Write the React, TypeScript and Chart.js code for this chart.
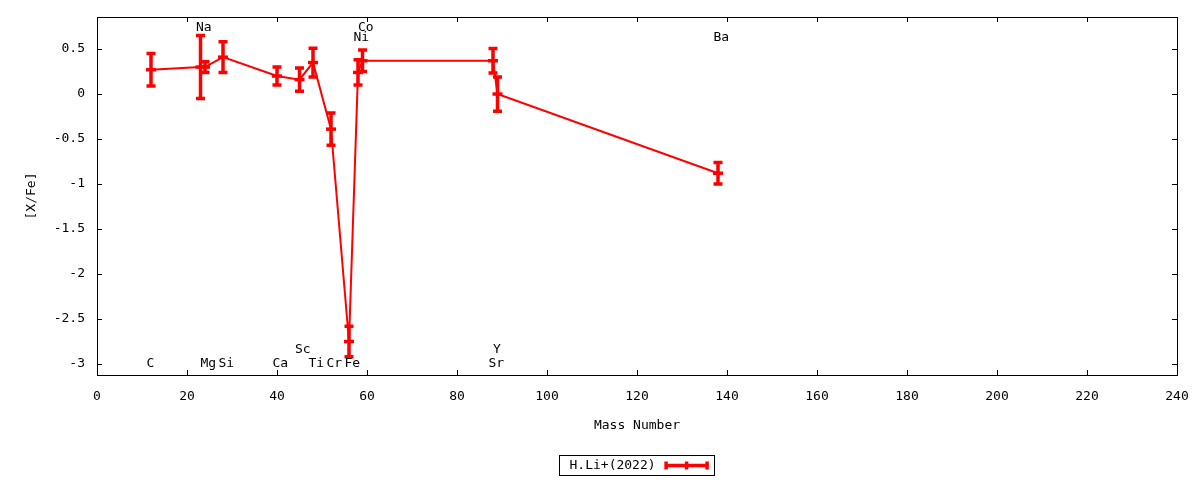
import React, { useEffect, useRef } from 'react';
import { Chart, registerables } from 'chart.js';

Chart.register(...registerables);

// ---- data ----
const elements = ['C', 'Na', 'Mg', 'Si', 'Ca', 'Sc', 'Ti', 'Cr', 'Fe', 'Ni', 'Co', 'Sr', 'Y', 'Ba'];
const massNumbers = [12, 23, 24, 28, 40, 45, 48, 52, 56, 58, 59, 88, 89, 138];
const xFe = [0.27, 0.30, 0.30, 0.41, 0.20, 0.16, 0.35, -0.39, -2.75, 0.24, 0.37, 0.37, 0.0, -0.88];
const xFeErr = [0.18, 0.35, 0.06, 0.17, 0.10, 0.13, 0.16, 0.18, 0.17, 0.14, 0.12, 0.135, 0.19, 0.12];
const labelY = [-3, 0.74, -3, -3, -3, -2.84, -3, -3, -3, 0.63, 0.74, -3, -2.84, 0.63];
const xTicks = [0, 20, 40, 60, 80, 100, 120, 140, 160, 180, 200, 220, 240];
const yTicks = [0.5, 0, -0.5, -1, -1.5, -2, -2.5, -3];
const seriesLabel = 'H.Li+(2022)';
const xTitle = 'Mass Number';
const yTitle = '[X/Fe]';
const X_MIN = 0;
const X_MAX = 240;
const Y_MIN = -3.122;
const Y_MAX = 0.856;

// ---- styles ----
const FONT_FAMILY = '"DejaVu Sans Mono", "Liberation Mono", monospace';
const FONT_SIZE = 13;
const RED = '#ff0000';
const TICK_LEN = 5;

const errorBarPlugin = {
  id: 'errorBars',
  afterDatasetsDraw(chart: any) {
    const { ctx, scales } = chart;
    const x = scales.x;
    const y = scales.y;
    ctx.save();
    ctx.strokeStyle = RED;
    ctx.lineWidth = 3.5;
    ctx.lineCap = 'butt';
    massNumbers.forEach((m, i) => {
      const px = x.getPixelForValue(m);
      const top = y.getPixelForValue(xFe[i] + xFeErr[i]);
      const bot = y.getPixelForValue(xFe[i] - xFeErr[i]);
      ctx.beginPath();
      ctx.moveTo(px, top);
      ctx.lineTo(px, bot);
      ctx.moveTo(px - 4.5, top);
      ctx.lineTo(px + 4.5, top);
      ctx.moveTo(px - 4.5, bot);
      ctx.lineTo(px + 4.5, bot);
      ctx.stroke();
    });
    ctx.restore();
  },
};

const framePlugin = {
  id: 'frame',
  afterDraw(chart: any) {
    const { ctx, chartArea, scales } = chart;
    const { left, right, top, bottom } = chartArea;
    ctx.save();
    ctx.strokeStyle = '#000000';
    ctx.lineWidth = 1;
    ctx.strokeRect(Math.round(left) + 0.5, Math.round(top) + 0.5, Math.round(right - left), Math.round(bottom - top));
    ctx.beginPath();
    scales.x.ticks.forEach((t: any) => {
      const px = Math.round(scales.x.getPixelForValue(t.value)) + 0.5;
      ctx.moveTo(px, bottom);
      ctx.lineTo(px, bottom - TICK_LEN);
      ctx.moveTo(px, top);
      ctx.lineTo(px, top + TICK_LEN);
    });
    scales.y.ticks.forEach((t: any) => {
      const py = Math.round(scales.y.getPixelForValue(t.value)) + 0.5;
      ctx.moveTo(left, py);
      ctx.lineTo(left + TICK_LEN, py);
      ctx.moveTo(right, py);
      ctx.lineTo(right - TICK_LEN, py);
    });
    ctx.stroke();
    ctx.restore();
  },
};

const elementLabelPlugin = {
  id: 'elementLabels',
  afterDraw(chart: any) {
    const { ctx, scales } = chart;
    ctx.save();
    ctx.fillStyle = '#000000';
    ctx.font = `${FONT_SIZE}px ${FONT_FAMILY}`;
    ctx.textAlign = 'left';
    ctx.textBaseline = 'middle';
    elements.forEach((el, i) => {
      const px = scales.x.getPixelForValue(massNumbers[i] - 1);
      const py = scales.y.getPixelForValue(labelY[i]);
      ctx.fillText(el, px, py);
    });
    ctx.restore();
  },
};

const legendPlugin = {
  id: 'customLegend',
  afterDraw(chart: any) {
    const { ctx, chartArea } = chart;
    ctx.save();
    ctx.font = `${FONT_SIZE}px ${FONT_FAMILY}`;
    const textW = ctx.measureText(seriesLabel).width;
    const padL = 10;
    const gap = 9;
    const sampleW = 44;
    const padR = 6;
    const boxW = padL + textW + gap + sampleW + padR;
    const boxH = 20;
    const cx = (chartArea.left + chartArea.right) / 2;
    const boxLeft = Math.round(cx - boxW / 2) + 0.5;
    const boxTop = 447.5;
    ctx.strokeStyle = '#000000';
    ctx.lineWidth = 1;
    ctx.strokeRect(boxLeft, boxTop, Math.round(boxW), boxH);
    ctx.fillStyle = '#000000';
    ctx.textAlign = 'left';
    ctx.textBaseline = 'middle';
    const midY = boxTop + boxH / 2;
    ctx.fillText(seriesLabel, boxLeft + padL, midY);
    const sx0 = boxLeft + padL + textW + gap;
    const sx1 = sx0 + sampleW;
    ctx.strokeStyle = RED;
    ctx.lineWidth = 3.5;
    ctx.beginPath();
    ctx.moveTo(sx0, midY);
    ctx.lineTo(sx1, midY);
    ctx.moveTo(sx0 + 1.5, midY - 4);
    ctx.lineTo(sx0 + 1.5, midY + 4);
    ctx.moveTo(sx1 - 1.5, midY - 4);
    ctx.lineTo(sx1 - 1.5, midY + 4);
    const sm = (sx0 + sx1) / 2;
    ctx.moveTo(sm, midY - 4);
    ctx.lineTo(sm, midY + 4);
    ctx.stroke();
    ctx.restore();
  },
};

export default function App() {
  const canvasRef = useRef<HTMLCanvasElement | null>(null);

  useEffect(() => {
    if (!canvasRef.current) return;
    const font = { family: FONT_FAMILY, size: FONT_SIZE };
    const chart = new Chart(canvasRef.current, {
      type: 'line',
      data: {
        datasets: [
          {
            label: seriesLabel,
            data: massNumbers.map((m, i) => ({ x: m, y: xFe[i] })),
            borderColor: RED,
            backgroundColor: RED,
            borderWidth: 2,
            tension: 0,
            fill: false,
            pointStyle: 'line',
            pointRadius: 5,
            pointHoverRadius: 5,
            pointBorderWidth: 3.5,
            pointBorderColor: RED,
          },
        ],
      },
      options: {
        animation: false,
        responsive: true,
        maintainAspectRatio: false,
        layout: { padding: { top: 9, right: 15, left: 0, bottom: 0 } },
        plugins: {
          legend: { display: false },
          tooltip: { enabled: false },
        },
        scales: {
          x: {
            type: 'linear',
            min: X_MIN,
            max: X_MAX,
            afterBuildTicks: (scale: any) => {
              scale.ticks = xTicks.map((v) => ({ value: v }));
            },
            afterFit: (scale: any) => {
              scale.height = 105;
              scale.paddingLeft = 0;
              scale.paddingRight = 0;
            },
            grid: { display: false, drawTicks: false },
            border: { display: false },
            ticks: {
              color: '#000000',
              font,
              padding: 14,
              maxRotation: 0,
              autoSkip: false,
              callback: (v: any) => String(v),
            },
            title: {
              display: true,
              text: xTitle,
              color: '#000000',
              font,
              padding: { top: 0, bottom: 47 },
            },
          },
          y: {
            type: 'linear',
            min: Y_MIN,
            max: Y_MAX,
            afterBuildTicks: (scale: any) => {
              scale.ticks = yTicks.map((v) => ({ value: v }));
            },
            afterFit: (scale: any) => {
              scale.width = 89;
              scale.paddingTop = 0;
              scale.paddingBottom = 0;
            },
            grid: { display: false, drawTicks: false },
            border: { display: false },
            ticks: {
              color: '#000000',
              font,
              padding: 12,
              autoSkip: false,
              callback: (v: any) => String(v),
            },
            title: {
              display: true,
              text: yTitle,
              color: '#000000',
              font,
              padding: { top: 16, bottom: 0 },
            },
          },
        },
      },
      plugins: [errorBarPlugin, framePlugin, elementLabelPlugin, legendPlugin],
    });
    return () => chart.destroy();
  }, []);

  return (
    <div style={{ width: 1184, height: 472, position: 'relative' }}>
      <canvas ref={canvasRef} />
    </div>
  );
}
